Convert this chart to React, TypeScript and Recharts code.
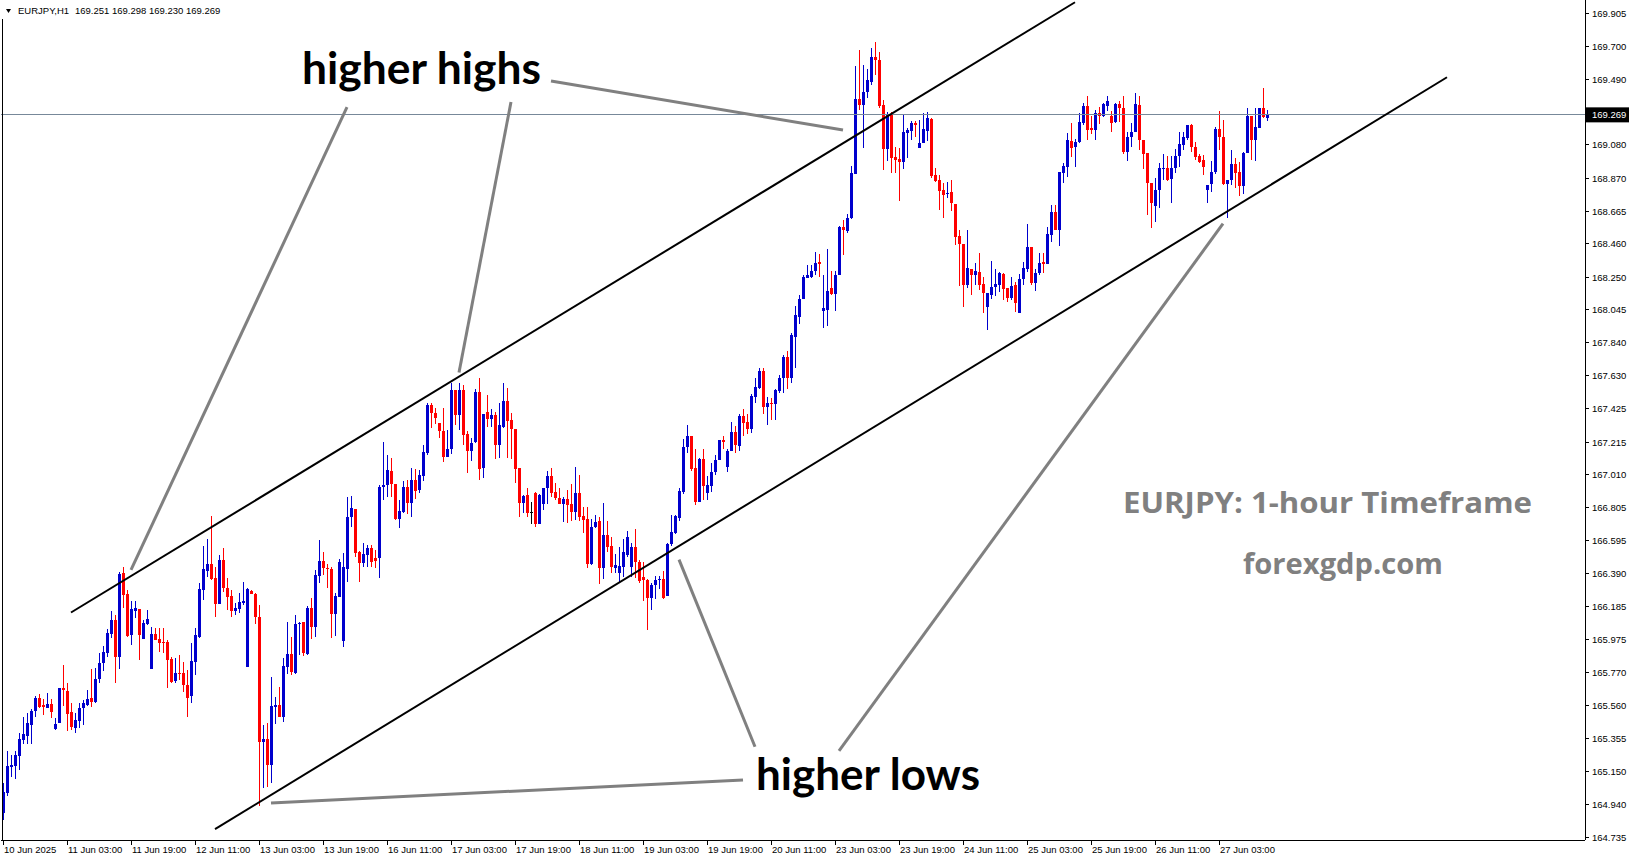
import React from 'react';
import { ComposedChart, Bar, XAxis, YAxis, ReferenceLine } from 'recharts';

// ---- data (EURJPY H1) ----
const opens = [
164.884,165.014,165.177,165.181,165.244,165.344,165.372,165.439,165.525,165.609,
165.565,165.544,165.571,165.415,165.453,165.669,165.652,165.519,165.422,165.466,
165.544,165.565,165.607,165.586,165.726,165.826,165.894,166.010,166.098,165.868,
166.391,166.261,166.004,166.154,166.167,165.979,166.073,165.793,166.010,165.981,
165.962,165.962,165.854,165.712,165.768,165.768,165.691,165.624,165.837,165.994,
166.286,166.408,166.449,166.359,166.198,166.474,166.301,166.248,166.156,166.167,
166.207,165.805,166.282,166.261,166.119,165.334,165.349,165.188,165.554,165.564,
165.491,165.805,165.884,165.763,166.073,166.085,165.884,166.175,166.056,166.376,
166.468,166.426,166.416,166.135,166.244,165.968,166.416,166.747,166.795,166.527,
166.458,166.506,166.548,166.489,166.489,166.931,166.945,167.035,166.951,166.730,
166.778,166.935,166.834,166.977,166.914,167.004,167.148,167.448,167.395,167.332,
167.284,167.123,167.169,167.542,167.385,167.542,167.265,167.161,167.217,167.527,
167.050,167.401,167.362,167.385,167.196,167.307,167.473,167.353,167.295,167.050,
166.834,166.882,166.774,166.893,166.700,166.826,166.929,167.002,166.899,166.866,
166.826,166.855,166.826,166.778,166.893,166.751,166.730,166.449,166.680,166.717,
166.422,166.631,166.564,166.426,166.391,166.433,166.506,166.433,166.554,166.464,
166.365,166.346,166.238,166.316,166.346,166.358,166.250,166.572,166.645,166.738,
166.901,167.182,167.255,167.052,166.840,167.108,166.894,166.938,167.028,167.101,
167.230,167.060,167.162,167.279,167.189,167.377,167.340,167.296,167.499,167.555,
167.662,167.438,167.462,167.457,167.535,167.615,167.747,167.620,167.876,168.003,
168.113,168.247,168.254,168.286,168.344,168.040,168.047,168.181,168.144,168.261,
168.564,168.539,168.620,168.900,169.371,169.331,169.412,169.475,169.632,169.613,
169.331,169.055,169.272,169.003,168.992,168.975,169.157,169.170,169.220,169.059,
169.095,169.170,169.243,168.892,168.860,168.797,168.772,168.783,168.710,168.511,
168.458,168.201,168.299,168.264,168.285,168.207,168.065,168.138,168.186,168.201,
168.270,168.180,168.118,168.201,168.023,168.237,168.304,168.438,168.216,168.274,
168.348,168.333,168.515,168.661,168.546,168.906,168.940,169.107,169.070,169.099,
169.220,169.327,169.188,169.174,169.283,169.264,169.327,169.262,169.222,169.337,
169.314,169.034,169.128,169.159,169.331,169.111,169.027,168.839,168.699,168.797,
168.929,168.937,168.864,168.937,169.011,169.080,169.121,169.205,169.069,169.010,
168.985,168.797,168.833,168.908,169.180,169.132,168.833,168.860,168.958,168.908,
168.822,169.031,169.262,169.111,169.188,169.314,169.251,
];

const highs = [
165.072,165.277,165.250,165.277,165.386,165.491,165.512,165.537,165.621,165.634,
165.600,165.637,165.600,165.482,165.669,165.816,165.700,165.580,165.512,165.580,
165.596,165.658,165.789,165.795,165.894,165.935,166.040,166.157,166.130,166.397,
166.433,166.286,166.217,166.217,166.167,166.098,166.161,166.052,166.046,166.046,
166.046,165.972,165.868,165.858,165.879,165.837,165.784,165.956,166.046,166.328,
166.562,166.606,166.753,166.433,166.506,166.552,166.359,166.286,166.207,166.265,
166.334,166.297,166.286,166.269,166.192,165.439,165.449,165.742,165.617,165.675,
165.857,166.087,165.993,166.129,166.087,166.085,166.186,166.234,166.412,166.600,
166.523,166.449,166.433,166.265,166.479,166.520,166.872,166.876,166.795,166.533,
166.583,166.569,166.569,166.537,166.945,167.217,167.134,167.113,166.951,166.851,
166.972,166.977,167.054,167.044,167.040,167.196,167.458,167.458,167.427,167.332,
167.427,167.291,167.588,167.542,167.588,167.573,167.284,167.238,167.548,167.615,
167.391,167.510,167.420,167.406,167.462,167.588,167.552,167.395,167.295,167.050,
166.882,166.929,166.837,166.899,166.889,166.929,167.033,167.050,166.956,166.924,
166.872,166.914,166.950,167.056,167.008,166.809,166.809,166.730,166.757,166.747,
166.830,166.717,166.621,166.512,166.558,166.604,166.656,166.583,166.667,166.474,
166.463,166.353,166.328,166.377,166.377,166.406,166.584,166.755,166.760,166.926,
167.235,167.320,167.255,167.174,167.113,167.174,166.999,167.084,167.133,167.230,
167.255,167.169,167.340,167.316,167.389,167.425,167.394,167.516,167.620,167.681,
167.681,167.499,167.491,167.547,167.637,167.759,167.784,167.901,168.071,168.137,
168.261,168.327,168.327,168.408,168.396,168.266,168.430,168.291,168.291,168.571,
168.608,168.644,168.949,169.575,169.673,169.583,169.558,169.689,169.726,169.664,
169.362,169.289,169.289,169.070,169.059,169.272,169.185,169.231,169.231,169.237,
169.279,169.285,169.247,168.938,168.892,168.839,168.850,168.860,168.710,168.546,
168.458,168.546,168.299,168.337,168.400,168.253,168.149,168.352,168.299,168.285,
168.279,168.180,168.249,168.222,168.270,168.348,168.584,168.438,168.299,168.400,
168.400,168.567,168.703,168.703,168.913,168.965,169.153,169.220,169.115,169.283,
169.342,169.388,169.264,169.299,169.316,169.341,169.389,169.293,169.341,169.358,
169.389,169.163,169.216,169.404,169.389,169.111,169.027,168.839,168.870,168.964,
169.023,169.013,169.013,169.054,169.163,169.163,169.205,169.209,169.101,169.021,
169.017,168.828,168.979,169.195,169.293,169.237,168.860,169.048,169.000,168.971,
169.038,169.314,169.262,169.310,169.314,169.439,169.298,
];

const lows = [
164.842,164.993,165.114,165.102,165.156,165.319,165.319,165.319,165.491,165.544,
165.504,165.544,165.480,165.409,165.453,165.560,165.403,165.409,165.386,165.419,
165.438,165.560,165.550,165.575,165.700,165.781,165.868,165.983,165.705,165.790,
166.171,165.993,165.941,166.108,165.847,165.976,166.066,165.793,165.972,165.900,
165.889,165.674,165.701,165.701,165.721,165.648,165.491,165.580,165.753,165.983,
166.223,166.370,166.349,166.119,166.198,166.276,166.161,166.119,166.129,166.144,
166.192,165.805,166.259,166.073,164.930,165.041,165.051,165.077,165.445,165.487,
165.460,165.759,165.753,165.759,165.878,165.872,165.878,165.976,165.993,166.332,
166.380,166.301,165.987,165.997,166.244,165.926,166.338,166.684,166.491,166.338,
166.428,166.433,166.433,166.422,166.359,166.851,166.872,166.872,166.726,166.673,
166.767,166.763,166.747,166.855,166.893,166.973,167.134,167.301,167.326,167.238,
167.092,167.123,167.138,167.322,167.291,167.196,167.019,167.098,167.207,166.977,
166.987,167.311,167.311,167.109,167.113,167.301,167.113,167.106,166.960,166.747,
166.767,166.747,166.700,166.680,166.700,166.788,166.826,166.868,166.851,166.826,
166.715,166.705,166.721,166.726,166.721,166.646,166.422,166.443,166.673,166.322,
166.353,166.527,166.391,166.391,166.332,166.370,166.495,166.370,166.359,166.332,
166.219,166.036,166.158,166.231,166.292,166.231,166.250,166.560,166.640,166.718,
166.889,167.145,167.035,166.823,166.840,166.853,166.853,166.901,167.011,167.101,
167.169,167.028,167.157,167.145,167.157,167.255,167.267,167.272,167.462,167.547,
167.389,167.320,167.352,167.352,167.523,167.523,167.547,167.584,167.681,167.957,
168.113,168.242,168.242,168.266,168.254,167.930,167.945,168.137,168.035,168.261,
168.388,168.527,168.615,168.900,169.302,169.059,169.375,169.456,169.519,169.312,
168.923,168.982,168.902,168.902,168.731,168.927,168.996,169.111,169.128,169.059,
169.090,169.107,168.871,168.850,168.672,168.624,168.745,168.666,168.452,168.195,
168.065,168.180,168.138,168.201,168.170,168.027,167.919,168.111,168.132,168.159,
168.107,168.097,168.107,168.034,168.023,168.201,168.285,168.201,168.166,168.264,
168.274,168.333,168.473,168.546,168.448,168.839,168.881,169.007,168.944,169.090,
169.205,169.111,169.147,169.111,169.209,169.257,169.295,169.159,169.220,169.222,
169.023,168.981,169.069,169.159,169.048,168.929,168.640,168.556,168.594,168.682,
168.860,168.854,168.713,168.902,168.944,169.048,169.111,169.038,168.985,168.964,
168.891,168.713,168.782,168.895,169.048,168.828,168.623,168.828,168.812,168.762,
168.770,169.027,168.985,168.979,169.188,169.251,169.230,
];

const closes = [
165.016,165.181,165.187,165.250,165.351,165.382,165.449,165.529,165.609,165.554,
165.550,165.571,165.523,165.446,165.669,165.658,165.511,165.428,165.470,165.547,
165.575,165.603,165.586,165.726,165.831,165.900,166.014,166.098,165.868,166.384,
166.255,166.000,166.167,166.175,166.004,166.081,166.104,166.010,165.972,165.956,
165.958,165.847,165.708,165.768,165.760,165.691,165.611,165.841,166.004,166.291,
166.416,166.449,166.353,166.198,166.474,166.301,166.244,166.156,166.171,166.209,
166.217,166.290,166.259,166.119,165.334,165.349,165.188,165.558,165.564,165.487,
165.809,165.884,165.774,166.073,166.081,165.889,166.175,166.056,166.380,166.468,
166.426,166.416,166.135,166.251,166.464,166.433,166.747,166.803,166.521,166.458,
166.512,166.548,166.464,166.468,166.935,166.945,167.039,166.951,166.730,166.782,
166.935,166.830,166.977,166.910,167.008,167.150,167.448,167.395,167.364,167.284,
167.123,167.171,167.542,167.385,167.542,167.259,167.161,167.207,167.527,167.044,
167.391,167.360,167.385,167.196,167.322,167.473,167.347,167.295,167.044,166.834,
166.878,166.772,166.774,166.700,166.882,166.929,167.002,166.897,166.862,166.826,
166.855,166.820,166.778,166.893,166.747,166.726,166.449,166.684,166.711,166.426,
166.631,166.558,166.428,166.443,166.437,166.527,166.621,166.558,166.464,166.345,
166.346,166.238,166.316,166.346,166.358,166.238,166.572,166.650,166.748,166.906,
167.186,167.255,167.047,166.840,167.108,166.938,166.945,167.028,167.101,167.230,
167.218,167.162,167.279,167.194,167.377,167.335,167.299,167.506,167.559,167.662,
167.438,167.462,167.455,167.540,167.615,167.747,167.620,167.884,168.010,168.113,
168.252,168.261,168.291,168.339,168.335,168.054,168.164,168.144,168.266,168.564,
168.544,168.620,168.905,169.371,169.334,169.415,169.485,169.632,169.613,169.325,
169.055,169.268,169.000,168.986,168.975,169.159,169.174,169.220,169.206,169.095,
169.180,169.247,168.887,168.854,168.791,168.766,168.777,168.714,168.505,168.458,
168.201,168.306,168.264,168.291,168.201,168.149,168.149,168.186,168.207,168.274,
168.174,168.118,168.195,168.086,168.237,168.306,168.438,168.216,168.279,168.341,
168.333,168.521,168.661,168.546,168.913,168.948,169.111,169.063,169.099,169.224,
169.327,169.174,169.174,169.283,169.264,169.335,169.356,169.220,169.337,169.314,
169.034,169.132,169.163,169.335,169.111,169.023,168.839,168.713,168.797,168.933,
168.937,168.860,168.937,169.011,169.084,169.128,169.205,169.069,169.006,168.971,
168.944,168.828,168.908,169.180,169.132,168.833,168.860,168.958,168.902,168.822,
169.031,169.262,169.111,169.195,169.314,169.257,169.269,
];

const xTickIndex = [0,16,32,48,64,80,96,112,128,144,160,176,192,208,224,240,256,272,288,304];
const xTickLabels = [
  '10 Jun 2025','11 Jun 03:00','11 Jun 19:00','12 Jun 11:00','13 Jun 03:00','13 Jun 19:00',
  '16 Jun 11:00','17 Jun 03:00','17 Jun 19:00','18 Jun 11:00','19 Jun 03:00','19 Jun 19:00',
  '20 Jun 11:00','23 Jun 03:00','23 Jun 19:00','24 Jun 11:00','25 Jun 03:00','25 Jun 19:00',
  '26 Jun 11:00','27 Jun 03:00',
];
const yTickValues = [
  169.905,169.700,169.490,169.080,168.870,168.665,168.460,168.250,168.045,167.840,167.630,
  167.425,167.215,167.010,166.805,166.595,166.390,166.185,165.975,165.770,165.560,165.355,
  165.150,164.940,164.735,
];
const lastPrice = 169.269;
const headerSymbol = 'EURJPY,H1';
const headerOHLC = [169.251, 169.298, 169.230, 169.269];

// trend channel & pointer lines, in (bar index, price)
const channelLines = [
  [{ x: 17, y: 166.145 }, { x: 268, y: 169.976 }],
  [{ x: 53, y: 164.785 }, { x: 361, y: 169.505 }],
];
const pointerLines = [
  [{ x: 86, y: 169.318 }, { x: 32, y: 166.412 }],
  [{ x: 127, y: 169.350 }, { x: 114, y: 167.652 }],
  [{ x: 137, y: 169.481 }, { x: 210, y: 169.174 }],
  [{ x: 188, y: 165.302 }, { x: 169, y: 166.477 }],
  [{ x: 209, y: 165.276 }, { x: 305, y: 168.586 }],
  [{ x: 185, y: 165.094 }, { x: 67, y: 164.949 }],
];

const TOTAL_SLOTS = 396;
const Y_DOMAIN: [number, number] = [164.717, 169.990];

const BULL = '#0000CD';
const BEAR = '#FF0000';
const DOJI = '#000000';
const AXIS_FONT = "'Liberation Sans', Arial, sans-serif";

const rows = Array.from({ length: TOTAL_SLOTS }, (_, i) => {
  if (i < opens.length) {
    return { t: i, o: opens[i], h: highs[i], l: lows[i], c: closes[i], range: [lows[i], highs[i]] };
  }
  return { t: i };
});

const Candle = (props: any) => {
  const { x, y, width, height, payload } = props;
  if (!payload || payload.o == null || x == null) return null;
  const { o, h, l, c } = payload;
  const top0 = height >= 0 ? y : y + height;
  const hh = Math.abs(height);
  const span = h - l;
  const k = span > 0 ? hh / span : 0;
  const py = (v: number) => top0 + (h - v) * k;
  const cx = Math.round(x + width / 2 - 0.5);
  const color = c > o ? BULL : c < o ? BEAR : DOJI;
  const bt = py(Math.max(o, c));
  const bb = py(Math.min(o, c));
  return (
    <g shapeRendering="crispEdges">
      <rect x={cx} y={top0} width={1} height={Math.max(hh, 1)} fill={color} />
      <rect x={cx - 1} y={bt} width={3} height={Math.max(bb - bt, 1)} fill={color} />
    </g>
  );
};

const XTick = (props: any) => {
  const { x, y, payload } = props;
  const idx = xTickIndex.indexOf(Number(payload.value));
  if (idx < 0) return null;
  return (
    <text x={x + 1} y={y + 6} fontSize={9.5} fontFamily={AXIS_FONT} fill="#000" textAnchor="start">
      {xTickLabels[idx]}
    </text>
  );
};

const YTick = (props: any) => {
  const { x, y, payload } = props;
  const v = Number(payload.value);
  if (v === lastPrice) {
    return (
      <g>
        <rect x={x - 5} y={y - 7.5} width={43} height={15} fill="#000" />
        <text x={x + 1} y={y + 3.5} fontSize={9.5} fontFamily={AXIS_FONT} fill="#fff">
          {v.toFixed(3)}
        </text>
      </g>
    );
  }
  return (
    <text x={x + 1} y={y + 3.5} fontSize={9.5} fontFamily={AXIS_FONT} fill="#000">
      {v.toFixed(3)}
    </text>
  );
};

export default function App() {
  return (
    <div style={{ position: 'absolute', left: 0, top: 0, width: 1631, height: 861, background: '#fff' }}>
      <ComposedChart
        width={1631}
        height={861}
        data={rows}
        margin={{ top: 0, right: 0, bottom: 0, left: 1 }}
        barCategoryGap={0}
      >
        <XAxis
          dataKey="t"
          type="category"
          height={21}
          ticks={xTickIndex}
          interval={0}
          tickSize={5}
          tickLine={{ stroke: '#000', shapeRendering: 'crispEdges' }}
          axisLine={{ stroke: '#000', shapeRendering: 'crispEdges' }}
          tick={<XTick />}
        />
        <YAxis
          orientation="right"
          type="number"
          width={46}
          domain={Y_DOMAIN}
          allowDataOverflow
          ticks={[...yTickValues, lastPrice]}
          interval={0}
          tickSize={4}
          tickLine={{ stroke: '#000', shapeRendering: 'crispEdges' }}
          axisLine={{ stroke: '#000', shapeRendering: 'crispEdges' }}
          tick={<YTick />}
        />
        <ReferenceLine y={lastPrice} stroke="#778899" strokeWidth={1} ifOverflow="visible" shapeRendering="crispEdges" />
        <Bar dataKey="range" isAnimationActive={false} shape={(p: any) => <Candle {...p} />} />
        {channelLines.map((seg, i) => (
          <ReferenceLine key={'ch' + i} segment={seg} stroke="#000" strokeWidth={2} ifOverflow="visible" />
        ))}
        {pointerLines.map((seg, i) => (
          <ReferenceLine key={'pt' + i} segment={seg} stroke="#808080" strokeWidth={3} ifOverflow="visible" />
        ))}
      </ComposedChart>
      <svg
        width={1631}
        height={861}
        style={{ position: 'absolute', left: 0, top: 0, pointerEvents: 'none' }}
      >
        <rect x={2} y={19} width={1} height={822} fill="#000" />
        <polygon points="6,9 11,9 8.5,13" fill="#000" />
        <text x={18} y={14} fontSize={9.5} fontFamily={AXIS_FONT} fill="#000">{headerSymbol}</text>
        <text x={75} y={14} fontSize={9.5} fontFamily={AXIS_FONT} fill="#000">
          {headerOHLC.map((v) => v.toFixed(3)).join(' ')}
        </text>
        <text x={302} y={84} fontSize={43} fontWeight="bold" fontFamily="Lato, sans-serif" fill="#000"
          textLength={239} lengthAdjust="spacingAndGlyphs">higher highs</text>
        <text x={756} y={790} fontSize={43} fontWeight="bold" fontFamily="Lato, sans-serif" fill="#000"
          textLength={224} lengthAdjust="spacingAndGlyphs">higher lows</text>
        <text x={1123} y={513} fontSize={29} fontWeight="bold" fontFamily="'Open Sans', sans-serif" fill="#808080"
          textLength={409} lengthAdjust="spacingAndGlyphs">EURJPY: 1-hour Timeframe</text>
        <text x={1243} y={574} fontSize={29} fontWeight="bold" fontFamily="'Open Sans', sans-serif" fill="#808080"
          textLength={200} lengthAdjust="spacingAndGlyphs">forexgdp.com</text>
      </svg>
    </div>
  );
}
